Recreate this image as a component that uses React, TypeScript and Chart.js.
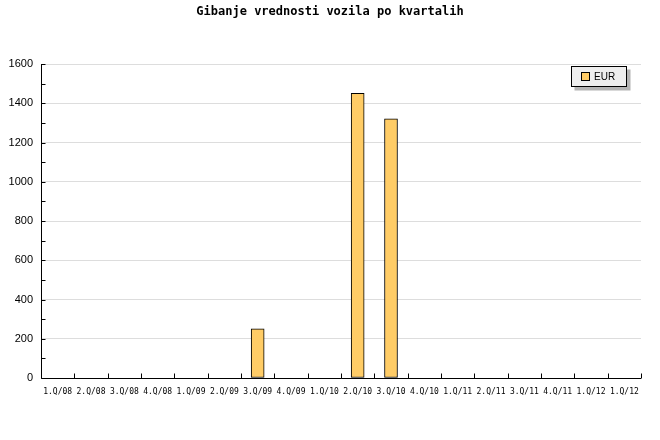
import React, { useEffect, useRef } from "react";
import { Chart, registerables } from "chart.js";

Chart.register(...registerables);

const TITLE = "Gibanje vrednosti vozila po kvartalih";
const categories = [
  "1.Q/08", "2.Q/08", "3.Q/08", "4.Q/08", "1.Q/09", "2.Q/09", "3.Q/09", "4.Q/09", "1.Q/10",
  "2.Q/10", "3.Q/10", "4.Q/10", "1.Q/11", "2.Q/11", "3.Q/11", "4.Q/11", "1.Q/12", "1.Q/12",
];
const eurValues = [0, 0, 0, 0, 0, 0, 250, 0, 0, 1450, 1320, 0, 0, 0, 0, 0, 0, 0];
const seriesLabel = "EUR";
const yMax = 1600;
const yStep = 200;
const yMinorStep = 100;

const decorPlugin = {
  id: "decor",
  afterDraw(chart: any) {
    const ctx = chart.ctx;
    const { left, right, top, bottom } = chart.chartArea;
    const y = chart.scales.y;
    ctx.save();
    ctx.strokeStyle = "#000";
    ctx.lineWidth = 1;
    ctx.beginPath();
    const lx = Math.round(left) + 0.5;
    const by = Math.round(bottom) + 0.5;
    ctx.moveTo(lx, Math.round(top));
    ctx.lineTo(lx, by);
    ctx.lineTo(Math.round(right), by);
    for (let v = 0; v <= yMax; v += yMinorStep) {
      const py = Math.round(y.getPixelForValue(v)) + 0.5;
      ctx.moveTo(lx, py);
      ctx.lineTo(lx + 4, py);
    }
    const n = categories.length;
    const w = (right - left) / n;
    for (let i = 1; i <= n; i++) {
      const px = Math.round(left + i * w) + 0.5;
      ctx.moveTo(px, by);
      ctx.lineTo(px, by - 5);
    }
    ctx.stroke();

    // title
    ctx.fillStyle = "#000";
    ctx.font = "bold 12px 'DejaVu Sans Mono'";
    ctx.textAlign = "center";
    ctx.textBaseline = "middle";
    ctx.fillText(TITLE, 330, 12);

    // legend
    const bx = 571.5, byy = 66.5, bw = 55, bh = 20;
    ctx.fillStyle = "#b4b4b4";
    ctx.fillRect(bx + 3, byy + 3, bw + 1, bh + 1);
    ctx.fillStyle = "#eeeeee";
    ctx.fillRect(bx, byy, bw, bh);
    ctx.strokeStyle = "#000";
    ctx.strokeRect(bx, byy, bw, bh);
    const ds = chart.data.datasets[0];
    ctx.fillStyle = ds.backgroundColor;
    ctx.fillRect(581.5, 72.5, 8, 8);
    ctx.strokeRect(581.5, 72.5, 8, 8);
    ctx.fillStyle = "#000";
    ctx.font = "10px 'Liberation Sans'";
    ctx.textAlign = "left";
    ctx.fillText(ds.label, 594, 77);
    ctx.restore();
  },
};

export default function App() {
  const ref = useRef<HTMLCanvasElement>(null);
  useEffect(() => {
    document.body.style.margin = "0";
    const chart = new Chart(ref.current!, {
      type: "bar",
      data: {
        labels: categories,
        datasets: [
          {
            label: seriesLabel,
            data: eurValues,
            backgroundColor: "#ffcc66",
            borderColor: "#000",
            borderWidth: 1,
            borderSkipped: false,
            barThickness: 13,
            categoryPercentage: 1,
          },
        ],
      },
      options: {
        responsive: false,
        animation: false,
        layout: { padding: { left: 0, top: 64, right: 19, bottom: 0 } },
        plugins: { legend: { display: false }, title: { display: false }, tooltip: { enabled: false } },
        scales: {
          x: {
            grid: { display: false, drawTicks: false },
            border: { display: false },
            ticks: {
              color: "#000",
              font: { family: "'DejaVu Sans Mono'", size: 8 },
              maxRotation: 0,
              autoSkip: false,
              padding: 9,
            },
            afterFit: (s: any) => { s.height = 62; },
          },
          y: {
            min: 0,
            max: yMax,
            grid: { color: "#dddddd", drawTicks: false },
            border: { display: false },
            ticks: {
              stepSize: yStep,
              color: "#000",
              font: { family: "'Liberation Sans'", size: 11 },
              padding: 8,
              callback: (v: any) => String(v),
            },
            afterFit: (s: any) => { s.width = 41; },
          },
        },
      },
      plugins: [decorPlugin],
    });
    return () => chart.destroy();
  }, []);
  return <canvas ref={ref} width={660} height={440} />;
}
